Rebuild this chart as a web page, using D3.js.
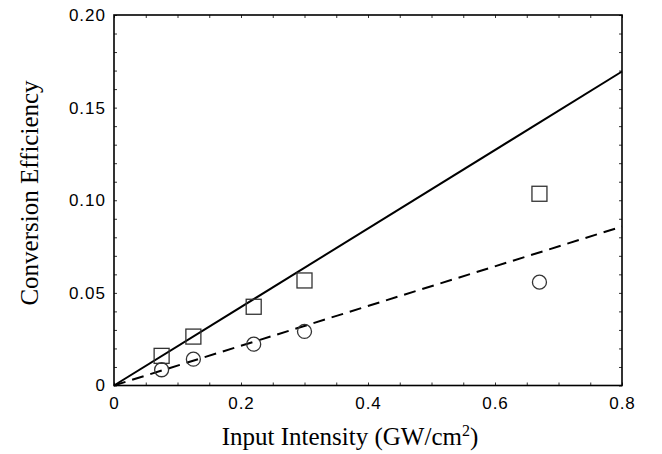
<!DOCTYPE html>
<html>
<head>
<meta charset="utf-8">
<script src="https://cdn.jsdelivr.net/npm/d3@7"></script>
<style>
  html, body { margin: 0; padding: 0; background: #fff; }
  svg { display: block; }
</style>
</head>
<body>
<svg id="chart" width="662" height="454"></svg>
<script>
// Data
const intensity = [0.075, 0.125, 0.22, 0.30, 0.67];
const squaresEff = [0.016, 0.0264, 0.0425, 0.0567, 0.1035];
const circlesEff = [0.0085, 0.0142, 0.0223, 0.0292, 0.0558];
const solidLine = [[0, 0], [0.8, 0.1695]];
const dashedLine = [[0, 0], [0.8, 0.0858]];
const xTickLabels = [0, 0.2, 0.4, 0.6, 0.8];
const yTickLabels = [0, 0.05, 0.10, 0.15, 0.20];

const svg = d3.select("#chart");
const m = { left: 114, right: 622, top: 15, bottom: 385.5 };
const x = d3.scaleLinear().domain([0, 0.8]).range([m.left, m.right]);
const y = d3.scaleLinear().domain([0, 0.2]).range([m.bottom, m.top]);

const xMinor = d3.range(0, 0.8001, 0.05);
const yMinor = d3.range(0, 0.2001, 0.01);

const sans = "Liberation Sans, Arial, sans-serif";
const serif = "Liberation Serif, Times New Roman, serif";

// Bottom axis labels
const xAxis = d3.axisBottom(x).tickValues(xTickLabels)
  .tickFormat(d => d === 0 ? "0" : d3.format(".1f")(d)).tickSize(0).tickPadding(11);
svg.append("g").attr("transform", `translate(0,${m.bottom})`).call(xAxis)
  .call(s => s.select(".domain").remove())
  .selectAll("text").attr("font-family", sans)
  .attr("font-size", 17).attr("letter-spacing", 1).attr("fill", "#000");

// Left axis labels
const yAxis = d3.axisLeft(y).tickValues(yTickLabels)
  .tickFormat(d => d === 0 ? "0" : d3.format(".2f")(d)).tickSize(0).tickPadding(8);
svg.append("g").attr("transform", `translate(${m.left},0)`).call(yAxis)
  .call(s => s.select(".domain").remove())
  .selectAll("text").attr("font-family", sans)
  .attr("font-size", 17).attr("letter-spacing", 1).attr("fill", "#000");

// inward minor ticks
svg.append("g").attr("transform", `translate(0,${m.bottom})`)
  .call(d3.axisTop(x).tickValues(xMinor).tickSize(3).tickFormat(""))
  .call(s => s.select(".domain").remove())
  .selectAll("line").attr("stroke", "#333");
svg.append("g").attr("transform", `translate(0,${m.top})`)
  .call(d3.axisBottom(x).tickValues(xMinor).tickSize(3).tickFormat(""))
  .call(s => s.select(".domain").remove())
  .selectAll("line").attr("stroke", "#333");
svg.append("g").attr("transform", `translate(${m.left},0)`)
  .call(d3.axisRight(y).tickValues(yMinor).tickSize(3).tickFormat(""))
  .call(s => s.select(".domain").remove())
  .selectAll("line").attr("stroke", "#333");
svg.append("g").attr("transform", `translate(${m.right},0)`)
  .call(d3.axisLeft(y).tickValues(yMinor).tickSize(3).tickFormat(""))
  .call(s => s.select(".domain").remove())
  .selectAll("line").attr("stroke", "#333");

// Frame
svg.append("rect")
  .attr("x", m.left).attr("y", m.top)
  .attr("width", m.right - m.left).attr("height", m.bottom - m.top)
  .attr("fill", "none").attr("stroke", "#000").attr("stroke-width", 1.6);

// Lines
const line = d3.line().x(d => x(d[0])).y(d => y(d[1]));
svg.append("path").datum(solidLine).attr("d", line)
  .attr("fill", "none").attr("stroke", "#000").attr("stroke-width", 2);
svg.append("path").datum(dashedLine).attr("d", line)
  .attr("fill", "none").attr("stroke", "#000").attr("stroke-width", 2)
  .attr("stroke-dasharray", "12,7");

// Markers
const sq = 15;
svg.append("g").selectAll("rect").data(intensity.map((v, i) => [v, squaresEff[i]]))
  .join("rect")
  .attr("x", d => x(d[0]) - sq / 2).attr("y", d => y(d[1]) - sq / 2)
  .attr("width", sq).attr("height", sq)
  .attr("fill", "none").attr("stroke", "#333").attr("stroke-width", 1.3);
svg.append("g").selectAll("circle").data(intensity.map((v, i) => [v, circlesEff[i]]))
  .join("circle")
  .attr("cx", d => x(d[0])).attr("cy", d => y(d[1])).attr("r", 7)
  .attr("fill", "none").attr("stroke", "#333").attr("stroke-width", 1.3);

// Axis titles
const xt = svg.append("text")
  .attr("x", 350).attr("y", 445).attr("text-anchor", "middle")
  .attr("font-family", serif)
  .attr("font-size", 25).attr("fill", "#000");
xt.append("tspan").text("Input Intensity (GW/cm");
xt.append("tspan").attr("font-size", 16).attr("dy", -9).text("2");
xt.append("tspan").attr("dy", 9).text(")");

svg.append("text")
  .attr("transform", "translate(38,193) rotate(-90)")
  .attr("text-anchor", "middle")
  .attr("font-family", serif)
  .attr("font-size", 25).attr("fill", "#000")
  .text("Conversion Efficiency");
</script>
</body>
</html>
